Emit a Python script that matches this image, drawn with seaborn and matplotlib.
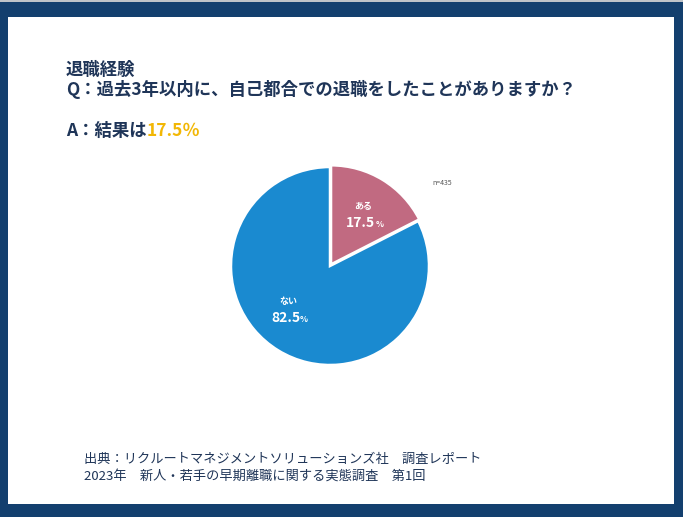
import matplotlib
matplotlib.use("Agg")
import matplotlib.pyplot as plt
from matplotlib.patches import Rectangle
import seaborn as sns

# data
labels = ["ある", "ない"]
shares = [17.5, 82.5]
n_resp = 435
title_lines = ["退職経験", "Q：過去3年以内に、自己都合での退職をしたことがありますか？"]
answer_text = "A：結果は"
answer_value = "17.5％"
source_lines = [
    "出典：リクルートマネジメントソリューションズ社　調査レポート",
    "2023年　新人・若手の早期離職に関する実態調査　第1回",
]

sns.set_style("white")
plt.rcParams["font.family"] = ["Noto Sans CJK JP", "DejaVu Sans"]

navy = "#133F6E"
text_navy = "#1F3558"
pie_colors = sns.color_palette(["#C16A81", "#1A8AD0"])

W, H = 683, 517
fig = plt.figure(figsize=(W / 100, H / 100), dpi=100, facecolor=navy)


def fx(px):
    return px / W


def fy(py):
    return 1 - py / H


# white panel and thin grey strip on top
fig.patches.append(Rectangle((fx(8), fy(504)), fx(666), (504 - 17) / H,
                             transform=fig.transFigure, facecolor="white",
                             edgecolor="none", zorder=-1))
fig.patches.append(Rectangle((0, fy(2)), 1, 2 / H, transform=fig.transFigure,
                             facecolor="#BFC3C8", edgecolor="none", zorder=-1))

# pie
ax = fig.add_axes([fx(231), fy(365), 198 / W, 198 / H])
ax.pie(shares, colors=pie_colors, startangle=90, counterclock=False,
       explode=[0.02, 0], wedgeprops=dict(edgecolor="white", linewidth=1.8))
ax.set_xlim(-1.0, 1.0)
ax.set_ylim(-1.0, 1.0)
ax.set_aspect("equal")
ax.axis("off")

label_pos = [(0.34, 0.60), (-0.42, -0.36)]
for lab, val, (x, y) in zip(labels, shares, label_pos):
    ax.text(x, y, lab, fontsize=6.5, fontweight="bold", color="white",
            ha="center", va="center")
    num = ax.text(x - 0.03, y - 0.17, f"{val:.1f}", fontsize=10, fontweight="bold",
                  color="white", ha="center", va="center")
    ax.annotate("%", xy=(1, 0.1), xycoords=num, ha="left", va="bottom",
                fontsize=6, fontweight="bold", color="white",
                annotation_clip=False)

ax.text(1.03, 0.84, f"n={n_resp}", fontsize=5, color="#555555",
        ha="left", va="center", clip_on=False)

# headings
fig.text(fx(66), fy(70), title_lines[0], fontsize=12.5, fontweight="bold",
         color=text_navy, va="center", ha="left")
fig.text(fx(66), fy(89), title_lines[1], fontsize=12.5, fontweight="bold",
         color=text_navy, va="center", ha="left")
a_txt = fig.text(fx(66), fy(131), answer_text, fontsize=12.5, fontweight="bold",
                 color=text_navy, va="center", ha="left")
ax.annotate(answer_value, xy=(1, 0.5), xycoords=a_txt, va="center", ha="left",
            fontsize=12.5, fontweight="bold", color="#F2B705",
            annotation_clip=False)

# source footer
fig.text(fx(84), fy(459), source_lines[0], fontsize=9.5, color=text_navy,
         va="center", ha="left")
fig.text(fx(84), fy(476), source_lines[1], fontsize=9.5, color=text_navy,
         va="center", ha="left")

fig.savefig("out.png", dpi=100, facecolor=navy)
